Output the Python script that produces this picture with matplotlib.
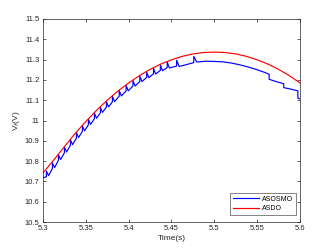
import numpy as np
from matplotlib import pyplot as plt

# ASDO estimate (red)
asdo_t = [5.3, 5.3125, 5.325, 5.3375, 5.35, 5.3625, 5.375, 5.3875, 5.4, 5.4125, 5.425,
          5.4375, 5.45, 5.4625, 5.475, 5.4875, 5.5, 5.5125, 5.525, 5.5375, 5.55,
          5.5625, 5.575, 5.5875, 5.6]
asdo_v = [10.742, 10.805, 10.871, 10.936, 10.995, 11.050, 11.100, 11.145, 11.185, 11.221, 11.252,
          11.278, 11.299, 11.316, 11.328, 11.335, 11.337, 11.335, 11.328, 11.316, 11.299,
          11.278, 11.252, 11.221, 11.185]

# ASOSMO estimate (blue), sawtooth read point by point
asosmo_t = [5.300,
            5.304, 5.304, 5.3065, 5.311, 5.311, 5.3135, 5.318, 5.318, 5.3205,
            5.325, 5.325, 5.3275, 5.332, 5.332, 5.3345, 5.339, 5.339, 5.3415,
            5.346, 5.346, 5.3485, 5.353, 5.353, 5.3555, 5.360, 5.360, 5.3625,
            5.367, 5.367, 5.3695, 5.374, 5.374, 5.3765, 5.381, 5.381, 5.3835,
            5.389, 5.389, 5.3915, 5.397, 5.397, 5.3995, 5.405, 5.405, 5.4075,
            5.413, 5.413, 5.4155, 5.421, 5.421, 5.4235, 5.429, 5.429, 5.4315,
            5.437, 5.437, 5.4395, 5.445, 5.445, 5.4475,
            5.456, 5.456, 5.459, 5.476, 5.476, 5.4795,
            5.490, 5.500, 5.510, 5.520, 5.530, 5.540, 5.550, 5.558, 5.564, 5.564,
            5.572, 5.581, 5.581, 5.590, 5.5975, 5.5975, 5.600]
asosmo_v = [10.718,
            10.723, 10.751, 10.728, 10.764, 10.791, 10.768, 10.804, 10.831, 10.808,
            10.841, 10.868, 10.845, 10.878, 10.905, 10.881, 10.913, 10.940, 10.916,
            10.947, 10.974, 10.949, 10.979, 11.006, 10.981, 11.009, 11.036, 11.011,
            11.038, 11.065, 11.040, 11.066, 11.093, 11.067, 11.092, 11.119, 11.093,
            11.120, 11.147, 11.121, 11.146, 11.173, 11.146, 11.170, 11.197, 11.170,
            11.192, 11.219, 11.192, 11.212, 11.239, 11.211, 11.230, 11.257, 11.229,
            11.247, 11.274, 11.245, 11.261, 11.288, 11.259,
            11.268, 11.297, 11.266, 11.285, 11.316, 11.288,
            11.292, 11.291, 11.289, 11.283, 11.274, 11.263, 11.250, 11.238, 11.228, 11.203,
            11.192, 11.181, 11.162, 11.154, 11.146, 11.110, 11.106]

x_ticks = [5.3, 5.35, 5.4, 5.45, 5.5, 5.55, 5.6]
x_labels = ['5.3', '5.35', '5.4', '5.45', '5.5', '5.55', '5.6']
y_ticks = [10.5, 10.6, 10.7, 10.8, 10.9, 11, 11.1, 11.2, 11.3, 11.4, 11.5]
y_labels = ['10.5', '10.6', '10.7', '10.8', '10.9', '11', '11.1', '11.2', '11.3', '11.4', '11.5']

plt.rcParams['font.family'] = ['Liberation Sans', 'DejaVu Sans']

fig = plt.figure(figsize=(3.32, 2.49), dpi=100)
ax = fig.add_axes([0.1295, 0.1084, 0.7741, 0.8153])

ax.plot(asosmo_t, asosmo_v, color='#0000ff', lw=0.85, label='ASOSMO')
ax.plot(asdo_t, asdo_v, color='#ff0000', lw=0.85, label='ASDO')

ax.set_xlim(5.3, 5.6)
ax.set_ylim(10.5, 11.5)
ax.set_xticks(x_ticks)
ax.set_xticklabels(x_labels)
ax.set_yticks(y_ticks)
ax.set_yticklabels(y_labels)
ax.tick_params(direction='in', length=2.5, width=0.5, labelsize=5.5,
               colors='#262626', top=True, right=True, pad=2.5)
for s in ax.spines.values():
    s.set_linewidth(0.5)
    s.set_color('#262626')

ax.set_xlabel('Time(s)', fontsize=6, color='#262626', labelpad=1.5)
ax.set_ylabel('V$_f$(V)', fontsize=6, color='#262626', labelpad=2)

leg = ax.legend(loc='lower right', bbox_to_anchor=(0.985, 0.035), fontsize=5,
                frameon=True, fancybox=False, edgecolor='#262626', handlelength=3.8,
                borderpad=0.4, labelspacing=0.35, handletextpad=0.4, borderaxespad=0.0)
leg.get_frame().set_linewidth(0.5)

fig.savefig('out.png', dpi=100)
